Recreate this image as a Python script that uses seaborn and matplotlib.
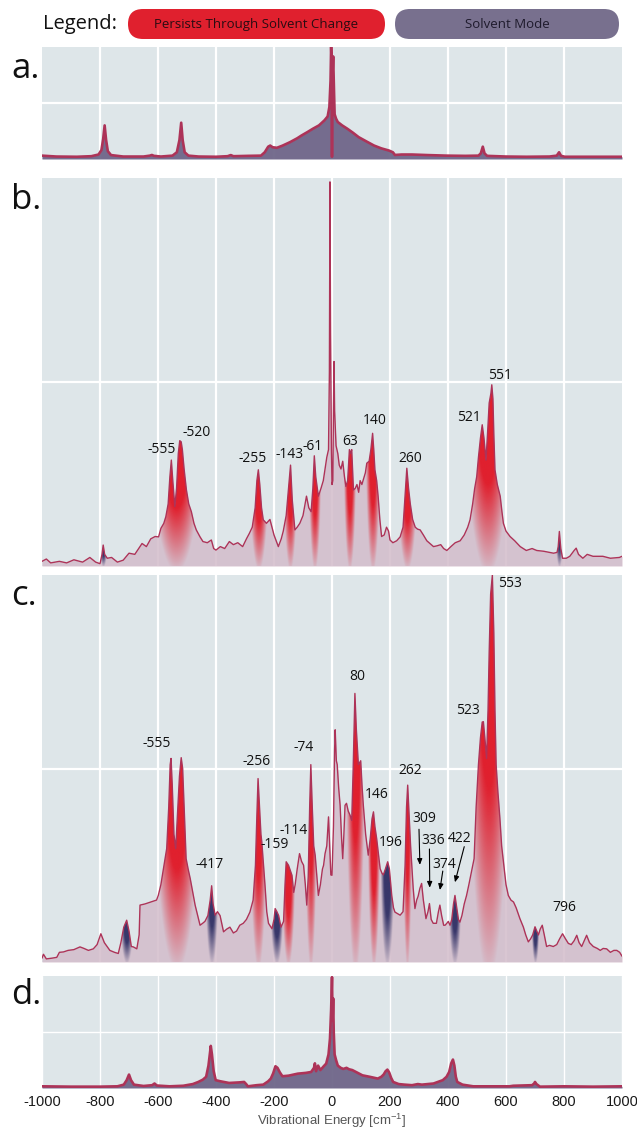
import numpy as np
import matplotlib
matplotlib.use("Agg")
import matplotlib.pyplot as plt
import matplotlib.path as mpath
from matplotlib.patches import FancyBboxPatch
from matplotlib.colors import to_rgb
import seaborn as sns

# ---------------- data ----------------
x_ticks = [-1000, -800, -600, -400, -200, 0, 200, 400, 600, 800, 1000]

a_points = [(-1000, 0.03), (-950, 0.022), (-880, 0.02), (-830, 0.025), (-805, 0.04), (-795, 0.08),
            (-789, 0.18), (-784, 0.30), (-779, 0.17), (-773, 0.07), (-762, 0.035), (-720, 0.022),
            (-650, 0.022), (-628, 0.03), (-621, 0.036), (-614, 0.028), (-590, 0.022), (-550, 0.03),
            (-535, 0.06), (-526, 0.17), (-520, 0.324), (-515, 0.17), (-508, 0.06), (-495, 0.03),
            (-460, 0.022), (-400, 0.02), (-360, 0.025), (-349, 0.035), (-340, 0.025), (-290, 0.028),
            (-245, 0.03), (-232, 0.06), (-220, 0.11), (-213, 0.12), (-205, 0.105), (-190, 0.10),
            (-170, 0.12), (-145, 0.15), (-120, 0.185), (-105, 0.21), (-85, 0.24), (-66, 0.27),
            (-45, 0.30), (-26, 0.345), (-15, 0.38), (-9, 0.465), (-5, 0.7), (-3, 1.0), (-1, 0.85),
            (0, 0.02), (1, 0.7), (4, 0.916), (7, 0.6), (9, 0.4), (14, 0.36), (20, 0.33), (35, 0.30),
            (53, 0.27), (72, 0.235), (92, 0.195), (120, 0.155), (145, 0.12), (170, 0.095),
            (197, 0.075), (210, 0.06), (217, 0.036), (240, 0.04), (276, 0.04), (330, 0.035),
            (395, 0.03), (460, 0.028), (505, 0.03), (513, 0.05), (520, 0.11), (526, 0.05),
            (535, 0.028), (600, 0.022), (671, 0.02), (750, 0.022), (775, 0.03), (783, 0.06),
            (790, 0.028), (803, 0.02), (900, 0.02), (1000, 0.02)]

b_points = [(-1000, 0.012), (-985, 0.018), (-970, 0.008), (-940, 0.012), (-915, 0.008), (-890, 0.016),
            (-860, 0.01), (-835, 0.022), (-815, 0.01), (-800, 0.006), (-793, 0.03), (-789, 0.054),
            (-784, 0.03), (-775, 0.02), (-760, 0.022), (-740, 0.01), (-720, 0.015), (-700, 0.033),
            (-680, 0.03), (-655, 0.058), (-640, 0.05), (-625, 0.07), (-610, 0.076), (-598, 0.075),
            (-590, 0.097), (-580, 0.11), (-573, 0.127), (-565, 0.16), (-559, 0.23), (-554, 0.273),
            (-549, 0.22), (-542, 0.153), (-536, 0.2), (-530, 0.29), (-525, 0.323), (-520, 0.32),
            (-516, 0.3), (-510, 0.25), (-502, 0.196), (-494, 0.16), (-485, 0.14), (-476, 0.11),
            (-468, 0.093), (-455, 0.075), (-445, 0.063), (-430, 0.06), (-416, 0.067), (-408, 0.045),
            (-400, 0.041), (-385, 0.05), (-370, 0.045), (-354, 0.063), (-340, 0.055), (-325, 0.06),
            (-308, 0.05), (-295, 0.07), (-285, 0.084), (-275, 0.1), (-265, 0.15), (-259, 0.22),
            (-254, 0.248), (-249, 0.21), (-243, 0.15), (-237, 0.119), (-226, 0.11), (-214, 0.12),
            (-200, 0.08), (-185, 0.05), (-175, 0.07), (-168, 0.09), (-158, 0.13), (-150, 0.2),
            (-143, 0.26), (-137, 0.17), (-128, 0.093), (-120, 0.1), (-111, 0.11), (-100, 0.13),
            (-88, 0.18), (-80, 0.15), (-72, 0.14), (-66, 0.2), (-61, 0.284), (-56, 0.23),
            (-47, 0.18), (-38, 0.2), (-30, 0.22), (-18, 0.28), (-12, 0.3), (-9, 0.5), (-7, 0.99),
            (-5, 0.6), (-2, 0.3), (0, 0.21), (3, 0.22), (5, 0.4), (7, 0.527), (9, 0.4), (14, 0.31),
            (20, 0.29), (25, 0.26), (31, 0.25), (37, 0.27), (43, 0.23), (48, 0.205), (54, 0.22),
            (60, 0.30), (64, 0.29), (68, 0.3), (74, 0.196), (80, 0.2), (86, 0.21), (92, 0.19),
            (97, 0.22), (103, 0.21), (109, 0.225), (115, 0.24), (120, 0.265), (128, 0.27),
            (134, 0.3), (140, 0.342), (144, 0.3), (148, 0.248), (154, 0.22), (159, 0.18),
            (165, 0.12), (171, 0.076), (180, 0.08), (188, 0.1), (195, 0.09), (200, 0.067),
            (210, 0.06), (223, 0.065), (235, 0.075), (245, 0.1), (251, 0.17), (258, 0.252),
            (264, 0.2), (270, 0.16), (278, 0.12), (287, 0.1), (295, 0.095), (304, 0.093),
            (315, 0.08), (327, 0.065), (338, 0.058), (350, 0.05), (362, 0.052), (375, 0.055),
            (385, 0.045), (396, 0.04), (410, 0.05), (425, 0.06), (442, 0.065), (456, 0.08),
            (468, 0.1), (476, 0.119), (485, 0.16), (492, 0.2), (499, 0.23), (505, 0.28),
            (512, 0.33), (518, 0.364), (524, 0.33), (531, 0.273), (537, 0.35), (542, 0.42),
            (548, 0.445), (551, 0.467), (555, 0.43), (558, 0.34), (562, 0.248), (570, 0.21),
            (580, 0.18), (586, 0.14), (591, 0.11), (600, 0.09), (614, 0.076), (630, 0.065),
            (649, 0.05), (670, 0.04), (690, 0.045), (706, 0.04), (730, 0.038), (750, 0.035),
            (764, 0.033), (776, 0.035), (780, 0.05), (784, 0.089), (789, 0.045), (795, 0.02),
            (808, 0.02), (820, 0.025), (835, 0.04), (842, 0.046), (850, 0.03), (865, 0.02),
            (880, 0.03), (900, 0.025), (934, 0.025), (960, 0.02), (991, 0.022), (1000, 0.025)]

c_points = [(-1000, 0.01), (-995, 0.02), (-985, 0.008), (-965, 0.01), (-949, 0.012), (-940, 0.025),
            (-926, 0.026), (-910, 0.03), (-890, 0.032), (-869, 0.039), (-855, 0.035), (-840, 0.03),
            (-823, 0.034), (-810, 0.045), (-797, 0.073), (-785, 0.05), (-766, 0.03), (-750, 0.025),
            (-737, 0.022), (-728, 0.05), (-718, 0.09), (-708, 0.108), (-700, 0.08), (-692, 0.04),
            (-685, 0.039), (-673, 0.034), (-665, 0.07), (-662, 0.147), (-645, 0.15), (-625, 0.155),
            (-605, 0.16), (-599, 0.172), (-590, 0.2), (-581, 0.241), (-575, 0.27), (-570, 0.293),
            (-563, 0.4), (-558, 0.51), (-555, 0.526), (-551, 0.46), (-545, 0.33), (-539, 0.293),
            (-533, 0.38), (-526, 0.48), (-520, 0.528), (-515, 0.5), (-509, 0.38), (-503, 0.267),
            (-496, 0.24), (-489, 0.216), (-480, 0.18), (-472, 0.147), (-463, 0.12), (-455, 0.095),
            (-446, 0.1), (-438, 0.105), (-428, 0.12), (-420, 0.16), (-415, 0.197), (-410, 0.15),
            (-403, 0.121), (-395, 0.13), (-386, 0.12), (-374, 0.078), (-363, 0.085), (-352, 0.09),
            (-340, 0.075), (-329, 0.08), (-318, 0.095), (-306, 0.1), (-295, 0.11), (-283, 0.129),
            (-272, 0.16), (-264, 0.25), (-259, 0.38), (-255, 0.474), (-250, 0.4), (-245, 0.33),
            (-242, 0.31), (-236, 0.25), (-231, 0.198), (-225, 0.13), (-219, 0.1), (-207, 0.086),
            (-200, 0.11), (-196, 0.138), (-190, 0.13), (-184, 0.12), (-176, 0.09), (-167, 0.105),
            (-162, 0.2), (-158, 0.259), (-150, 0.25), (-138, 0.224), (-132, 0.18), (-127, 0.2),
            (-120, 0.24), (-112, 0.28), (-105, 0.26), (-98, 0.25), (-92, 0.2), (-87, 0.147),
            (-82, 0.22), (-77, 0.4), (-73, 0.51), (-68, 0.4), (-63, 0.3), (-58, 0.276), (-52, 0.22),
            (-47, 0.172), (-40, 0.2), (-33, 0.24), (-29, 0.25), (-24, 0.28), (-18, 0.3),
            (-12, 0.375), (-8, 0.3), (-4, 0.225), (0, 0.224), (5, 0.35), (9, 0.55), (11, 0.6),
            (15, 0.52), (18, 0.51), (23, 0.45), (28, 0.405), (33, 0.32), (37, 0.267), (41, 0.33),
            (45, 0.405), (50, 0.41), (56, 0.39), (62, 0.38), (68, 0.366), (73, 0.5), (79, 0.694),
            (84, 0.6), (91, 0.51), (99, 0.52), (104, 0.45), (108, 0.405), (116, 0.33), (125, 0.276),
            (132, 0.32), (138, 0.37), (143, 0.388), (148, 0.35), (154, 0.319), (160, 0.28),
            (166, 0.241), (172, 0.23), (177, 0.225), (184, 0.24), (192, 0.259), (198, 0.24),
            (206, 0.172), (212, 0.14), (217, 0.129), (226, 0.125), (235, 0.121), (245, 0.13),
            (252, 0.25), (257, 0.4), (261, 0.457), (266, 0.38), (271, 0.3), (275, 0.25),
            (280, 0.19), (286, 0.138), (292, 0.16), (297, 0.17), (303, 0.19), (309, 0.203),
            (315, 0.16), (324, 0.112), (331, 0.13), (336, 0.151), (342, 0.11), (349, 0.1),
            (360, 0.1), (367, 0.13), (372, 0.147), (378, 0.12), (385, 0.095), (390, 0.095),
            (396, 0.1), (401, 0.105), (407, 0.095), (413, 0.11), (419, 0.15), (424, 0.172),
            (430, 0.14), (436, 0.11), (441, 0.103), (448, 0.12), (456, 0.15), (464, 0.172),
            (472, 0.2), (480, 0.23), (490, 0.267), (497, 0.4), (505, 0.51), (512, 0.58),
            (518, 0.62), (522, 0.621), (527, 0.58), (533, 0.526), (538, 0.65), (542, 0.8),
            (547, 0.95), (553, 1.0), (558, 0.85), (562, 0.65), (566, 0.51), (572, 0.44),
            (579, 0.371), (585, 0.3), (591, 0.259), (600, 0.2), (608, 0.172), (617, 0.16),
            (626, 0.155), (635, 0.14), (648, 0.112), (660, 0.09), (668, 0.07), (677, 0.052),
            (685, 0.06), (692, 0.07), (700, 0.091), (706, 0.08), (712, 0.07), (718, 0.085),
            (725, 0.095), (732, 0.07), (740, 0.04), (750, 0.043), (763, 0.04), (775, 0.045),
            (785, 0.06), (795, 0.073), (805, 0.06), (815, 0.048), (825, 0.045), (835, 0.055),
            (844, 0.069), (852, 0.05), (861, 0.04), (870, 0.055), (878, 0.069), (888, 0.05),
            (901, 0.04), (915, 0.035), (925, 0.03), (935, 0.035), (947, 0.034), (960, 0.025),
            (972, 0.03), (982, 0.03), (992, 0.025), (1000, 0.015)]

d_points = [(-1000, 0.015), (-900, 0.012), (-800, 0.012), (-740, 0.015), (-718, 0.03), (-708, 0.07),
            (-700, 0.12), (-693, 0.07), (-683, 0.03), (-650, 0.018), (-620, 0.025), (-612, 0.04),
            (-604, 0.022), (-560, 0.015), (-513, 0.02), (-480, 0.035), (-461, 0.054), (-445, 0.075),
            (-434, 0.1), (-426, 0.2), (-420, 0.33), (-418, 0.376), (-414, 0.3), (-408, 0.15),
            (-401, 0.07), (-385, 0.06), (-355, 0.045), (-320, 0.05), (-303, 0.054), (-296, 0.035),
            (-290, 0.015), (-260, 0.025), (-237, 0.03), (-220, 0.06), (-211, 0.084), (-203, 0.13),
            (-195, 0.194), (-188, 0.18), (-180, 0.14), (-171, 0.105), (-150, 0.11), (-118, 0.128),
            (-90, 0.135), (-72, 0.143), (-62, 0.18), (-59, 0.22), (-55, 0.15), (-48, 0.2),
            (-40, 0.16), (-30, 0.19), (-20, 0.218), (-12, 0.3), (-7, 0.44), (-3, 0.7), (0, 0.99),
            (2, 0.6), (4, 0.8), (6, 0.5), (9, 0.3), (14, 0.25), (20, 0.2), (30, 0.18), (39, 0.17),
            (50, 0.18), (59, 0.167), (70, 0.16), (85, 0.14), (105, 0.113), (130, 0.1), (158, 0.084),
            (170, 0.1), (178, 0.12), (185, 0.15), (191, 0.164), (197, 0.14), (204, 0.09),
            (211, 0.054), (230, 0.035), (250, 0.03), (276, 0.025), (296, 0.035), (310, 0.03),
            (350, 0.04), (382, 0.07), (395, 0.1), (404, 0.143), (411, 0.22), (417, 0.254),
            (422, 0.2), (427, 0.1), (432, 0.054), (450, 0.03), (487, 0.015), (560, 0.015),
            (612, 0.015), (625, 0.02), (690, 0.025), (697, 0.04), (700, 0.054), (705, 0.035),
            (717, 0.012), (800, 0.015), (900, 0.012), (1000, 0.015)]

# highlighted modes: centre, half-width, peak height, kind
b_hl_center = [-537, -254, -143, -61, 62, 140, 259, 537, -789, 784]
b_hl_halfw = [80, 30, 22, 20, 20, 24, 32, 75, 12, 12]
b_hl_height = [0.33, 0.25, 0.26, 0.285, 0.30, 0.342, 0.252, 0.467, 0.054, 0.089]
b_hl_kind = ["p", "p", "p", "p", "p", "p", "p", "p", "s", "s"]

c_hl_center = [-708, -537, -415, -255, -190, -150, -73, 79, 143, 192, 261, 424, 540, 700]
c_hl_halfw = [20, 75, 20, 28, 20, 22, 20, 32, 20, 22, 15, 20, 75, 12]
c_hl_height = [0.108, 0.53, 0.2, 0.474, 0.14, 0.26, 0.51, 0.694, 0.388, 0.26, 0.457, 0.172, 1.0, 0.091]
c_hl_kind = ["s", "p", "s", "p", "s", "p", "p", "p", "p", "s", "p", "s", "p", "s"]

b_labels = ["-555", "-520", "-255", "-143", "-61", "63", "140", "260", "521", "551"]
b_label_x = [-586, -466, -272, -148, -66, 62, 148, 269, 472, 579]
b_label_y = [0.299, 0.345, 0.276, 0.287, 0.309, 0.322, 0.374, 0.276, 0.384, 0.492]

c_labels = ["-555", "-256", "-74", "-417", "-159", "-114", "80", "146", "196", "262", "523", "553", "796"]
c_label_x = [-605, -260, -99, -421, -197, -133, 87, 154, 202, 269, 470, 614, 800]
c_label_y = [0.565, 0.518, 0.554, 0.253, 0.304, 0.341, 0.739, 0.432, 0.308, 0.494, 0.649, 0.979, 0.14]

c_arrow_labels = ["309", "336", "374", "422"]
c_arrow_text_x = [318, 349, 386, 441]
c_arrow_text_y = [0.371, 0.313, 0.252, 0.32]
c_arrow_tail = [(300, 0.343), (336, 0.292), (382, 0.235), (456, 0.298)]
c_arrow_head = [(303, 0.251), (337, 0.192), (372, 0.186), (424, 0.206)]

legend_items = ["Persists Through Solvent Change", "Solvent Mode"]

# ---------------- style ----------------
BG = "#dee6e9"
LINE = "#ad3358"
SOLV_FILL = "#6f6689"
MIX_FILL = "#d3bccb"
RED = "#e0202e"
NAVY = "#38376a"

sns.set_style("darkgrid", {"axes.facecolor": BG, "grid.color": "white"})
plt.rcParams["font.family"] = ["Open Sans", "DejaVu Sans"]
plt.rcParams["mathtext.default"] = "regular"

W, H = 637, 1131
fig = plt.figure(figsize=(W / 100, H / 100), dpi=100)
fig.patch.set_facecolor("white")

panels = [
    ("a", 47, 159, a_points, "solv", 0.5),
    ("b", 178, 566, b_points, "mix", 0.474),
    ("c", 575, 962, c_points, "mix", 0.5),
    ("d", 976, 1088, d_points, "solv", 0.5),
]
L, R = 42, 622


def add_glow(ax, clip, xc, w, h, color):
    nx, ny = 100, 200
    xs = np.linspace(-1, 1, nx)
    ys = np.linspace(0, 1.08, ny)
    X, Y = np.meshgrid(xs, ys)
    r = np.sqrt(X ** 2 + (1 - Y) ** 2)
    alpha = np.clip((1.05 - r) / 0.5, 0, 1)
    rgba = np.zeros((ny, nx, 4))
    rgba[..., :3] = to_rgb(color)
    rgba[..., 3] = alpha
    im = ax.imshow(rgba, extent=[xc - w, xc + w, 0, h * 1.08], origin="lower",
                   aspect="auto", interpolation="bilinear", zorder=3)
    im.set_clip_path(clip, ax.transData)


axes = {}
for name, top, bot, pts, kind, grid_y in panels:
    ax = fig.add_axes([L / W, 1 - bot / H, (R - L) / W, (bot - top) / H])
    axes[name] = ax
    xs = np.array([p[0] for p in pts], dtype=float)
    ys = np.array([p[1] for p in pts], dtype=float)
    ax.set_facecolor(BG)
    ax.set_axisbelow(True)
    ax.grid(True, color="white", lw=1.0 if name == "d" else 1.6)
    ax.set_xticks(x_ticks[1:-1])
    ax.set_yticks([grid_y])
    ax.tick_params(length=0)
    ax.set_yticklabels([])
    for s in ax.spines.values():
        s.set_visible(False)
    if kind == "solv":
        ax.fill_between(xs, 0, ys, color=SOLV_FILL, alpha=0.95, lw=0, zorder=2)
        lw = 1.9
    else:
        ax.fill_between(xs, 0, ys, color=MIX_FILL, alpha=0.85, lw=0, zorder=2)
        lw = 1.0
        verts = np.vstack([[xs[0], 0], np.column_stack([xs, ys]), [xs[-1], 0]])
        clip = mpath.Path(verts, closed=False)
        if name == "b":
            hl = zip(b_hl_center, b_hl_halfw, b_hl_height, b_hl_kind)
        else:
            hl = zip(c_hl_center, c_hl_halfw, c_hl_height, c_hl_kind)
        for xc, w, h, k in hl:
            add_glow(ax, clip, xc, w, h, RED if k == "p" else NAVY)
    sns.lineplot(x=xs, y=ys, ax=ax, color=LINE, lw=lw, zorder=4, sort=False)
    ax.set_xlim(-1000, 1000)
    ax.set_ylim(0, 1.0)
    ax.set_xlabel("")
    ax.set_ylabel("")
    if name == "d":
        ax.set_xticks(x_ticks)
        ax.set_xticklabels([str(t) for t in x_ticks], fontfamily="Liberation Sans",
                           fontsize=10.5, color="#1a1a1a")
        ax.tick_params(axis="x", pad=5)
        ax.set_xlabel("Vibrational Energy [cm$^{-1}$]", fontfamily="Liberation Sans",
                      fontsize=9.5, color="#555555", labelpad=2)
    else:
        ax.set_xticklabels([])

# peak labels
FS = 10
for t, x, y in zip(b_labels, b_label_x, b_label_y):
    axes["b"].text(x, y, t, ha="center", va="center", fontsize=FS, color="#111111", zorder=6)
for t, x, y in zip(c_labels, c_label_x, c_label_y):
    axes["c"].text(x, y, t, ha="center", va="center", fontsize=FS, color="#111111", zorder=6)
for t, tx, ty, tail, head in zip(c_arrow_labels, c_arrow_text_x, c_arrow_text_y,
                                  c_arrow_tail, c_arrow_head):
    axes["c"].text(tx, ty, t, ha="center", va="center", fontsize=FS, color="#111111", zorder=6)
    axes["c"].annotate("", xy=head, xytext=tail,
                       arrowprops=dict(arrowstyle="-|>,head_length=0.35,head_width=0.15",
                                       color="black", lw=0.8, shrinkA=0, shrinkB=0), zorder=6)

# overlay in pixel coordinates for legend and panel letters
ov = fig.add_axes([0, 0, 1, 1])
ov.set_xlim(0, W)
ov.set_ylim(H, 0)
ov.axis("off")
ov.patch.set_alpha(0)
ov.text(43, 24, "Legend:", fontsize=14.5, va="center", ha="left", color="#111111")
boxes = [(128, 385, RED, "#2a0c12"), (395, 619, "#78708e", "#1e1a2c")]
for (x0, x1, fc, tc), label in zip(boxes, legend_items):
    ov.add_patch(FancyBboxPatch((x0, 9), x1 - x0, 30,
                                boxstyle="round,pad=0,rounding_size=15",
                                fc=fc, ec="none"))
    ov.text((x0 + x1) / 2, 24.5, label, fontsize=9.5, ha="center", va="center", color=tc)

for letter, base in zip(["a.", "b.", "c.", "d."], [78, 209, 605, 1004]):
    ov.text(11, base, letter, fontsize=25, ha="left", va="baseline", color="#111111")

fig.savefig("out.png", dpi=100, facecolor="white")
